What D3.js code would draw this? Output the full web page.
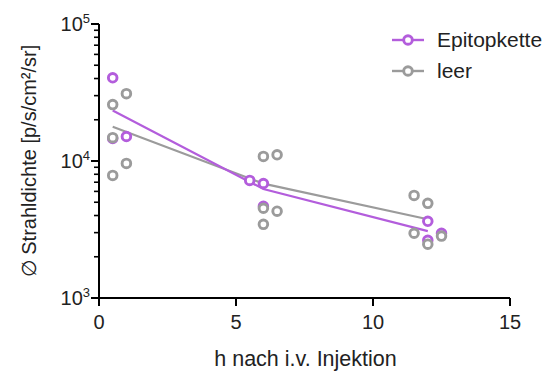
<!DOCTYPE html>
<html>
<head>
<meta charset="utf-8">
<script src="https://cdn.jsdelivr.net/npm/d3@7"></script>
<style>
body { margin: 0; background: #fff; }
text { font-family: Arial, "Liberation Sans", sans-serif; }
</style>
</head>
<body>
<svg></svg>
<script>
const size = { w: 551, h: 374 };
const margin = { t: 24, r: 41, b: 76, l: 99 };

// hours as plotted (slightly offset), nominal sampling hour, radiance
const epiHours = [0.5, 0.5, 1, 5.5, 6, 6, 12, 12, 12.5];
const epiGroup = [0.5, 0.5, 0.5, 6, 6, 6, 12, 12, 12];
const epiValues = [40500, 14600, 15100, 7220, 6850, 4670, 3630, 2640, 2970];

const leerHours = [0.5, 0.5, 0.5, 1, 1, 6, 6.5, 6, 6.5, 6, 11.5, 12, 11.5, 12, 12.5];
const leerGroup = [0.5, 0.5, 0.5, 0.5, 0.5, 6, 6, 6, 6, 6, 12, 12, 12, 12, 12];
const leerValues = [25800, 14800, 7850, 31000, 9600, 10800, 11100, 4520, 4300, 3450, 5610, 4910, 2970, 2470, 2830];

const xTicks = [0, 5, 10, 15];
const yTicks = [1e3, 1e4, 1e5];
const yTickLabels = ["3", "4", "5"];

const series = [
	{ name: "Epitopkette", color: "#b35ddc", hours: epiHours, group: epiGroup, values: epiValues },
	{ name: "leer", color: "#9b9b9b", hours: leerHours, group: leerGroup, values: leerValues },
];

const svg = d3.select("svg").attr("width", size.w).attr("height", size.h);

const x = d3.scaleLinear().domain([0, 15]).range([margin.l, size.w - margin.r]);
const y = d3.scaleLog().domain([1e3, 1e5]).range([size.h - margin.b, margin.t]);

// y axis with minor ticks
const minor = [];
[1e3, 1e4].forEach((dec) => {
	for (let k = 2; k <= 9; k++) minor.push(dec * k);
});
const yAxisG = svg.append("g").attr("transform", `translate(${margin.l},0)`);
yAxisG.append("line")
	.attr("y1", y(1e3)).attr("y2", y(1e5))
	.attr("stroke", "#000").attr("stroke-width", 2);
yAxisG.selectAll("line.major").data(yTicks).enter().append("line")
	.attr("x1", -8).attr("x2", 0)
	.attr("y1", (d) => y(d)).attr("y2", (d) => y(d))
	.attr("stroke", "#000").attr("stroke-width", 2);
yAxisG.selectAll("line.minor").data(minor).enter().append("line")
	.attr("x1", -5).attr("x2", 0)
	.attr("y1", (d) => y(d)).attr("y2", (d) => y(d))
	.attr("stroke", "#000").attr("stroke-width", 1.6);
const yLab = yAxisG.selectAll("text.tl").data(yTicks).enter().append("text")
	.attr("x", -9).attr("y", (d) => y(d) + 7)
	.attr("text-anchor", "end")
	.attr("font-size", 20).attr("fill", "#222");
yLab.append("tspan").text("10");
yLab.append("tspan").attr("dy", -8).attr("font-size", 13).text((d, i) => yTickLabels[i]);

// x axis
const xAxisG = svg.append("g").attr("transform", `translate(0,${y(1e3)})`);
xAxisG.append("line")
	.attr("x1", x(0)).attr("x2", x(15))
	.attr("stroke", "#000").attr("stroke-width", 2);
xAxisG.selectAll("line.t").data(xTicks).enter().append("line")
	.attr("x1", (d) => x(d)).attr("x2", (d) => x(d))
	.attr("y1", 0).attr("y2", 8)
	.attr("stroke", "#000").attr("stroke-width", 2);
xAxisG.selectAll("text").data(xTicks).enter().append("text")
	.attr("x", (d) => x(d)).attr("y", 31)
	.attr("text-anchor", "middle").attr("font-size", 20).attr("fill", "#222")
	.text((d) => d);

// axis titles
svg.append("text")
	.attr("transform", `translate(36,${(y(1e3) + y(1e5)) / 2}) rotate(-90)`)
	.attr("text-anchor", "middle").attr("font-size", 20).attr("fill", "#222")
	.text("∅ Strahldichte [p/s/cm²/sr]");
svg.append("text")
	.attr("x", (x(0) + x(15)) / 2 + 1).attr("y", 366)
	.attr("text-anchor", "middle").attr("font-size", 21.5).attr("fill", "#222")
	.text("h nach i.v. Injektion");

const line = d3.line().x((d) => x(d[0])).y((d) => y(d[1]));

// mean lines (gray drawn first)
series.slice().reverse().forEach((s) => {
	const means = Array.from(
		d3.rollup(s.values.map((v, i) => [s.group[i], v]), (g) => d3.mean(g, (d) => d[1]), (d) => d[0])
	).sort((a, b) => a[0] - b[0]);
	svg.append("path")
		.datum(means)
		.attr("d", line)
		.attr("fill", "none").attr("stroke", s.color).attr("stroke-width", 2.2);
});

// points
series.forEach((s) => {
	svg.append("g").selectAll("circle")
		.data(s.values.map((v, i) => [s.hours[i], v]))
		.enter().append("circle")
		.attr("cx", (d) => x(d[0])).attr("cy", (d) => y(d[1]))
		.attr("r", 4.3)
		.attr("fill", "#fff").attr("stroke", s.color).attr("stroke-width", 2.9);
});

// legend
const legend = svg.append("g").attr("transform", "translate(392,40)");
series.forEach((s, i) => {
	const g = legend.append("g").attr("transform", `translate(0,${i * 31})`);
	g.append("line").attr("x1", 0).attr("x2", 32).attr("stroke", s.color).attr("stroke-width", 2.4);
	g.append("circle").attr("cx", 16).attr("r", 4.3).attr("fill", "#fff")
		.attr("stroke", s.color).attr("stroke-width", 2.9);
	g.append("text").attr("x", 45).attr("y", 7).attr("font-size", 21).attr("fill", "#222").text(s.name);
});
</script>
</body>
</html>
